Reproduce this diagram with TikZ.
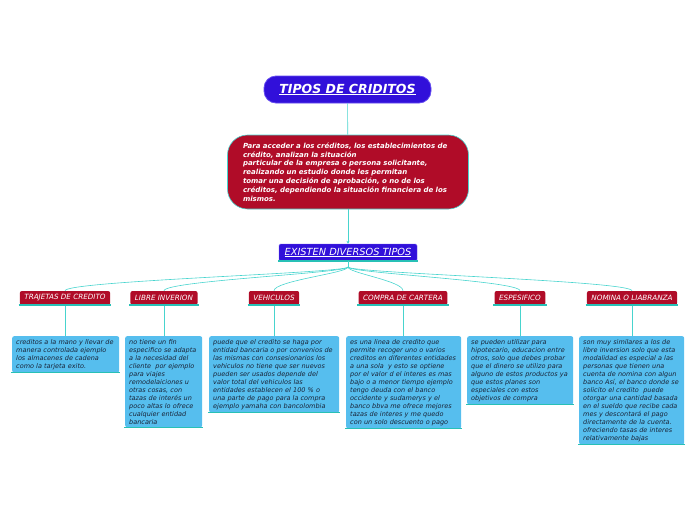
\documentclass[tikz,border=0pt]{standalone}
\usepackage{fontspec}
\setmainfont{DejaVu Sans}
\usetikzlibrary{arrows.meta}

\definecolor{tituloazul}{RGB}{49,16,218}
\definecolor{bordeazul}{RGB}{100,76,240}
\definecolor{rojo}{RGB}{176,12,40}
\definecolor{celeste}{RGB}{86,190,238}
\definecolor{turquesa}{RGB}{72,212,206}
\definecolor{raya}{RGB}{40,192,182}
\definecolor{textoinfo}{RGB}{25,35,55}

\tikzstyle{titulo} = [rounded corners=12pt, fill=tituloazul, draw=bordeazul, line width=0.8pt, minimum width=167pt, minimum height=27pt, text=white, font=\fontsize{12.5}{14}\selectfont\bfseries\itshape]
\tikzstyle{nota} = [rounded corners=20pt, fill=rojo, draw=turquesa, line width=0.6pt, minimum width=241pt, minimum height=74pt, text width=210pt, align=left, text=white, font=\fontsize{7}{8.8}\selectfont\bfseries\itshape]
\tikzstyle{sub} = [rounded corners=1.5pt, fill=tituloazul, draw=bordeazul, minimum width=138pt, minimum height=17pt, inner sep=0pt, text=white, font=\fontsize{9.8}{11}\selectfont\itshape]
\tikzstyle{tipo} = [rounded corners=2pt, fill=rojo, minimum height=14pt, inner xsep=4.5pt, inner ysep=0pt, text=white, font=\fontsize{7.2}{8}\selectfont\itshape]
\tikzstyle{info} = [rounded corners=2pt, fill=celeste, anchor=north west, inner xsep=4pt, inner ysep=3pt, align=left, text=textoinfo, font=\fontsize{6.5}{8}\selectfont\itshape]
\tikzstyle{link} = [turquesa, line width=0.6pt]
\tikzstyle{linea} = [raya, line width=1.5pt]

\begin{document}
\begin{tikzpicture}[x=1pt, y=-1pt]
\useasboundingbox (0,0) rectangle (696,520);
%titulo
\node[titulo] (tipos) at (347.5,89.5) {\underline{TIPOS DE CRIDITOS}};
\node[nota] (acceder) at (348,172) {Para acceder a los créditos, los establecimientos de\\
crédito, analizan la situación\\
particular de la empresa o persona solicitante,\\
realizando un estudio donde les permitan\\
tomar una decisión de aprobación, o no de los\\
créditos, dependiendo la situación financiera de los\\
mismos.};
\node[sub] (existen) at (348,252.5) {\underline{EXISTEN DIVERSOS TIPOS}};
\coordinate (hub) at (348,267);
\draw[link] (tipos) -- (acceder);
\draw[link, -{Stealth[length=3pt, width=3pt]}] (acceder) -- (existen);
\draw[linea] ([xshift=-1pt]existen.south west) -- ([xshift=1pt]existen.south east);
\draw[link] (existen.south) -- (hub);
%begin tipos
\node[tipo] (trajetas) at (65,298) {TRAJETAS DE CREDITO};
\node[tipo] (libre) at (164,298) {LIBRE INVERION};
\node[tipo] (vehiculos) at (274,298) {VEHICULOS};
\node[tipo] (compra) at (403,298) {COMPRA DE CARTERA};
\node[tipo] (espesifico) at (520,298) {ESPESIFICO};
\node[tipo] (nomina) at (632,298) {NOMINA O LIABRANZA};
%end tipos
%begin curvas
\draw[link] (hub) .. controls +(0,6) and +(0,-10) .. (trajetas.north);
\draw[link] (hub) .. controls +(0,6) and +(0,-10) .. (libre.north);
\draw[link] (hub) .. controls +(0,6) and +(0,-10) .. (vehiculos.north);
\draw[link] (hub) .. controls +(0,6) and +(0,-10) .. (compra.north);
\draw[link] (hub) .. controls +(0,6) and +(0,-10) .. (espesifico.north);
\draw[link] (hub) .. controls +(0,6) and +(0,-10) .. (nomina.north);
%end curvas
%begin info
\node[info, text width=99pt] (trajetasinfo) at (12,336) {creditos a la mano y llevar de\\
manera controlada ejemplo\\
los almacenes de cadena\\
como la tarjeta exito.};
\node[info, text width=69pt] (libreinfo) at (125,336) {no tiene un fin\\
especifico se adapta\\
a la necesidad del\\
cliente~ por ejemplo\\
para viajes\\
remodelaiciones u\\
otras cosas, con\\
tazas de interés un\\
poco altas lo ofrece\\
cualquier entidad\\
bancaria};
\node[info, text width=122pt] (vehiculosinfo) at (209,336) {puede que el credito se haga por\\
entidad bancaria o por convenios de\\
las mismas con consesionarios los\\
vehiculos no tiene que ser nuevos\\
pueden ser usados depende del\\
valor total del vehiculos las\\
entidades establecen el 100 \% o\\
una parte de pago para la compra\\
ejemplo yamaha con bancolombia};
\node[info, text width=107pt] (comprainfo) at (346,336) {es una linea de credito que\\
permite recoger uno o varios\\
creditos en diferentes entidades\\
a una sola~ y esto se optiene\\
por el valor d el interes es mas\\
bajo o a menor tiempo ejemplo\\
tengo deuda con el banco\\
occidente y sudamerys y el\\
banco bbva me ofrece mejores\\
tazas de interes y me quedo\\
con un solo descuento o pago};
\node[info, text width=98pt] (espesificoinfo) at (467,336) {se pueden utilizar para\\
hipotecario, educacion entre\\
otros, solo que debes probar\\
que el dinero se utilizo para\\
alguno de estos productos ya\\
que estos planes son\\
especiales con estos\\
objetivos de compra};
\node[info, text width=97pt] (nominainfo) at (579,336) {son muy similares a los de\\
libre inversion solo que esta\\
modalidad es especial a las\\
personas que tienen una\\
cuenta de nomina con algun\\
banco Así, el banco donde se\\
solicito el credito~ puede\\
otorgar una cantidad basada\\
en el sueldo que recibe cada\\
mes y descontará el pago\\
directamente de la cuenta.\\
ofreciendo tasas de interes\\
relativamente bajas};
%end info
%begin enlaces
\draw[link] (trajetas.south) -- (trajetas.south |- trajetasinfo.north);
\draw[link] (libre.south) -- (libre.south |- libreinfo.north);
\draw[link] (vehiculos.south) -- (vehiculos.south |- vehiculosinfo.north);
\draw[link] (compra.south) -- (compra.south |- comprainfo.north);
\draw[link] (espesifico.south) -- (espesifico.south |- espesificoinfo.north);
\draw[link] (nomina.south) -- (nomina.south |- nominainfo.north);
%end enlaces
%begin rayas
\draw[linea] ([xshift=-1pt]trajetas.south west) -- ([xshift=1pt]trajetas.south east);
\draw[linea] ([xshift=-1pt]libre.south west) -- ([xshift=1pt]libre.south east);
\draw[linea] ([xshift=-1pt]vehiculos.south west) -- ([xshift=1pt]vehiculos.south east);
\draw[linea] ([xshift=-1pt]compra.south west) -- ([xshift=1pt]compra.south east);
\draw[linea] ([xshift=-1pt]espesifico.south west) -- ([xshift=1pt]espesifico.south east);
\draw[linea] ([xshift=-1pt]nomina.south west) -- ([xshift=1pt]nomina.south east);
\draw[linea] ([xshift=-1pt]trajetasinfo.south west) -- ([xshift=1pt]trajetasinfo.south east);
\draw[linea] ([xshift=-1pt]libreinfo.south west) -- ([xshift=1pt]libreinfo.south east);
\draw[linea] ([xshift=-1pt]vehiculosinfo.south west) -- ([xshift=1pt]vehiculosinfo.south east);
\draw[linea] ([xshift=-1pt]comprainfo.south west) -- ([xshift=1pt]comprainfo.south east);
\draw[linea] ([xshift=-1pt]espesificoinfo.south west) -- ([xshift=1pt]espesificoinfo.south east);
\draw[linea] ([xshift=-1pt]nominainfo.south west) -- ([xshift=1pt]nominainfo.south east);
%end rayas
\end{tikzpicture}
\end{document}
